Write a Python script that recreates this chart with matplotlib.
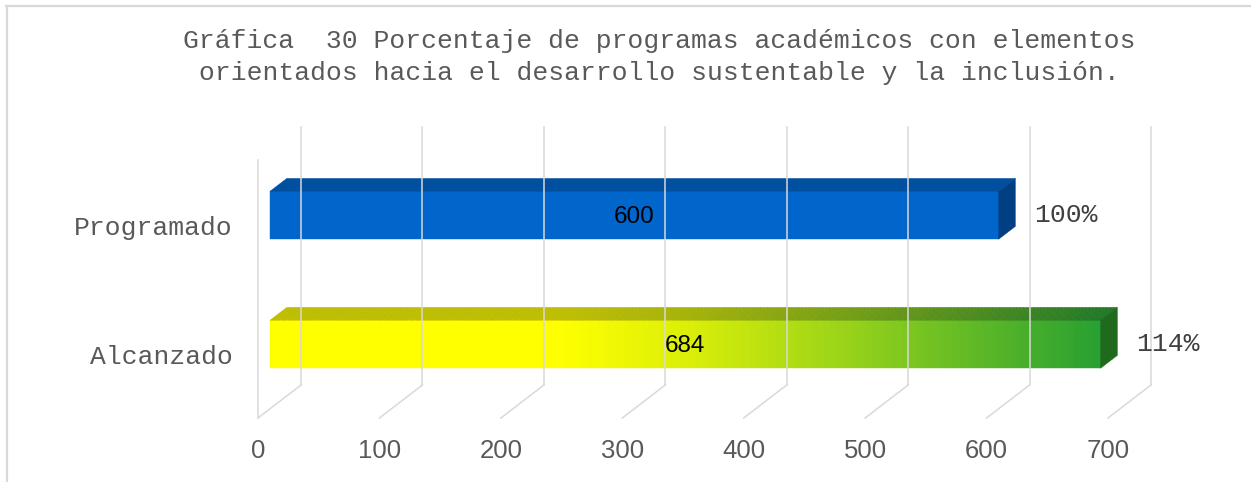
import numpy as np
import matplotlib
matplotlib.use("Agg")
import matplotlib.pyplot as plt
from matplotlib.colors import LinearSegmentedColormap, to_rgb
from matplotlib.patches import Polygon
from matplotlib.lines import Line2D
from matplotlib.transforms import IdentityTransform

categories = ["Alcanzado", "Programado"]
values = [684, 600]
ticks = [0, 100, 200, 300, 400, 500, 600, 700]
title = ("Gráfica  30 Porcentaje de programas académicos con elementos\n"
         "orientados hacia el desarrollo sustentable y la inclusión.")

W, H = 1251, 482
fig = plt.figure(figsize=(W / 100, H / 100), dpi=100)
fig.patch.set_facecolor("white")

# front plane of the 3d box: x 0..700, y 0..2 (one unit per category)
ax = fig.add_axes([258 / W, (H - 418) / H, 850 / W, 258 / H])
ax.set_xlim(0, 700)
ax.set_ylim(0, 2)
ax.axis("off")

DX, DY = 43, 33          # depth offset of the back wall, pixels
D1, D2 = 0.28, 0.67      # front/back depth of the bars
BAR_H = 0.372
grid_c = "#d9d9d9"
text_c = "#595959"


def px(v, y, d=0.0):
    x0, y0 = ax.transData.transform((v, y))
    return (x0 + DX * d, y0 + DY * d)


def line(p, q, **kw):
    fig.add_artist(Line2D([p[0], q[0]], [p[1], q[1]], transform=IdentityTransform(), **kw))


def poly(pts, color, **kw):
    fig.add_artist(Polygon(pts, closed=True, facecolor=color, edgecolor=color,
                           lw=0.3, transform=IdentityTransform(), **kw))


# outer frame
line((6, H - 5.5), (W, H - 5.5), color=grid_c, lw=1.6)
line((6.5, 0), (6.5, H - 5.5), color=grid_c, lw=1.6)

# back wall grid, floor diagonals and side wall edge
for t in ticks:
    line(px(t, 0, 1), px(t, 2, 1), color=grid_c, lw=1.1)
    line(px(t, 0, 0), px(t, 0, 1), color=grid_c, lw=1.1)
line(px(0, 0, 0), px(0, 2, 0), color=grid_c, lw=1.1)

for t in ticks:
    x, y = px(t, 0, 0)
    fig.text(x / W, (y - 33) / H, str(t), ha="center", va="center",
             fontsize=18.5, color=text_c, family="Liberation Sans")

green = LinearSegmentedColormap.from_list(
    "yg", [(0, "#ffff00"), (0.35, "#ffff00"), (0.5, "#dcef08"),
           (0.7, "#97d21a"), (1.0, "#28a032")])


def shade(c, f):
    return tuple(np.array(to_rgb(c)) * f)


def gradient_bar(val, yc, face_at, top_at, side_c, n=240):
    y0, y1 = yc - BAR_H / 2, yc + BAR_H / 2
    edges = np.linspace(0, val, n + 1)
    for i in range(n):
        a, b = edges[i], edges[i + 1]
        f = (a + b) / 2 / val
        poly([px(a, y0, D1), px(b, y0, D1), px(b, y1, D1), px(a, y1, D1)], face_at(f))
        poly([px(a, y1, D1), px(b, y1, D1), px(b, y1, D2), px(a, y1, D2)], top_at(f))
    poly([px(val, y0, D1), px(val, y0, D2), px(val, y1, D2), px(val, y1, D1)], side_c)


for i, (name, val) in enumerate(zip(categories, values)):
    yc = i + 0.5
    if name == "Programado":
        gradient_bar(val, yc, lambda f: "#0066cc", lambda f: "#00509f", "#003f82", n=1)
    else:
        gradient_bar(val, yc, lambda f: green(f),
                     lambda f: shade(green(f)[:3], 0.74), "#1f6a1c")

    x, y = px(val / 2, yc, D1)
    fig.text(x / W, (y - 2) / H, str(val), ha="center", va="center",
             fontsize=17.5, color="black", family="Liberation Sans")

    pct = round(val / values[categories.index("Programado")] * 100)
    x, y = px(val, yc, D1)
    fig.text((x + 36) / W, y / H, f"{pct}%", ha="left", va="center",
             fontsize=19, color="#404040", family="Liberation Mono")

    x, y = px(0, yc, 0)
    fig.text((x - 25) / W, (y - 3.5) / H, name, ha="right", va="center",
             fontsize=19, color=text_c, family="Liberation Mono")

fig.text(659 / W, 1 - 57 / H, title, ha="center", va="center", fontsize=19,
         color=text_c, family="Liberation Mono", linespacing=1.45)

fig.savefig("out.png", dpi=100)
